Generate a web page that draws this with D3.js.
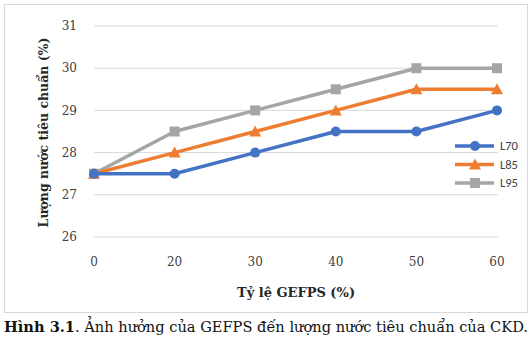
<!DOCTYPE html>
<html><head><meta charset="utf-8">
<script src="https://cdn.jsdelivr.net/npm/d3@7"></script>
<style>body{margin:0;background:#fff}svg{display:block}</style>
</head><body>
<svg id="c" width="532" height="339"></svg>
<script>
const categories = ["0","20","30","40","50","60"];
const L70 = [27.5,27.5,28,28.5,28.5,29];
const L85 = [27.5,28,28.5,29,29.5,29.5];
const L95 = [27.5,28.5,29,29.5,30,30];
const yTicks = [26,27,28,29,30,31];
const seriesNames = ["L70","L85","L95"];
const colors = ["#4472C4","#ED7D31","#A5A5A5"];
const seriesVals = [L70,L85,L95];

const svg = d3.select("#c");
const serif = "'DejaVu Serif', serif";
svg.append("rect").attr("x",4.5).attr("y",4.5).attr("width",523).attr("height",308)
  .attr("fill","#fff").attr("stroke","#d9d9d9");

const x = d3.scalePoint().domain(categories).range([94,497]);
const y = d3.scaleLinear().domain([26,31]).range([237,26]);

svg.append("g").selectAll("line").data(yTicks).join("line")
  .attr("x1",94).attr("x2",498).attr("y1",d=>y(d)).attr("y2",d=>y(d))
  .attr("stroke","#d9d9d9").attr("stroke-width",1);

svg.append("g").selectAll("text").data(yTicks).join("text")
  .attr("x",77).attr("y",d=>y(d)).attr("dy","0.35em").attr("text-anchor","end")
  .attr("font-family",serif).attr("font-size",12).attr("fill","#404040").text(d=>d);

svg.append("g").selectAll("text").data(categories).join("text")
  .attr("x",d=>x(d)).attr("y",262).attr("dy","0.35em").attr("text-anchor","middle")
  .attr("font-family",serif).attr("font-size",12).attr("fill","#404040").text(d=>d);

svg.append("text").attr("x",296).attr("y",292).attr("dy","0.35em").attr("text-anchor","middle")
  .attr("font-family",serif).attr("font-size",13).attr("font-weight","bold").attr("fill","#262626")
  .text("Tỷ lệ GEFPS (%)");
svg.append("text").attr("transform","translate(44,132.5) rotate(-90)").attr("dy","0.35em").attr("text-anchor","middle")
  .attr("font-family",serif).attr("font-size",12.5).attr("font-weight","bold").attr("fill","#262626")
  .text("Lượng nước tiêu chuẩn (%)");

const line = d3.line().x((d,i)=>x(categories[i])).y(d=>y(d));
function marker(g, type, cx, cy, color){
  if(type===0) g.append("circle").attr("cx",cx).attr("cy",cy).attr("r",5).attr("fill",color);
  else if(type===1) g.append("path").attr("d",`M${cx},${cy-6}L${cx+6},${cy+5}L${cx-6},${cy+5}Z`).attr("fill",color);
  else g.append("rect").attr("x",cx-5).attr("y",cy-5).attr("width",10).attr("height",10).attr("fill",color);
}
[2,1,0].forEach(s=>{
  const g = svg.append("g");
  g.append("path").datum(seriesVals[s]).attr("d",line).attr("fill","none")
    .attr("stroke",colors[s]).attr("stroke-width",3.5).attr("stroke-linejoin","round");
  seriesVals[s].forEach((v,i)=>marker(g,s,x(categories[i]),y(v),colors[s]));
});

const leg = svg.append("g");
seriesNames.forEach((n,i)=>{
  const ly = 146 + i*18.5;
  leg.append("line").attr("x1",455).attr("x2",494).attr("y1",ly).attr("y2",ly)
    .attr("stroke",colors[i]).attr("stroke-width",3.5);
  marker(leg,i,475,ly,colors[i]);
  leg.append("text").attr("x",500).attr("y",ly).attr("dy","0.35em")
    .attr("font-family","Carlito, 'Liberation Sans', sans-serif").attr("font-size",12.5).attr("fill","#404040").text(n);
});

const cap = svg.append("text").attr("x",4).attr("y",332)
  .attr("font-family",serif).attr("font-size",14.6).attr("fill","#111");
cap.append("tspan").attr("font-weight","bold").text("Hình 3.1");
cap.append("tspan").text(". Ảnh hưởng của GEFPS đến lượng nước tiêu chuẩn của CKD.");
</script>
</body></html>
